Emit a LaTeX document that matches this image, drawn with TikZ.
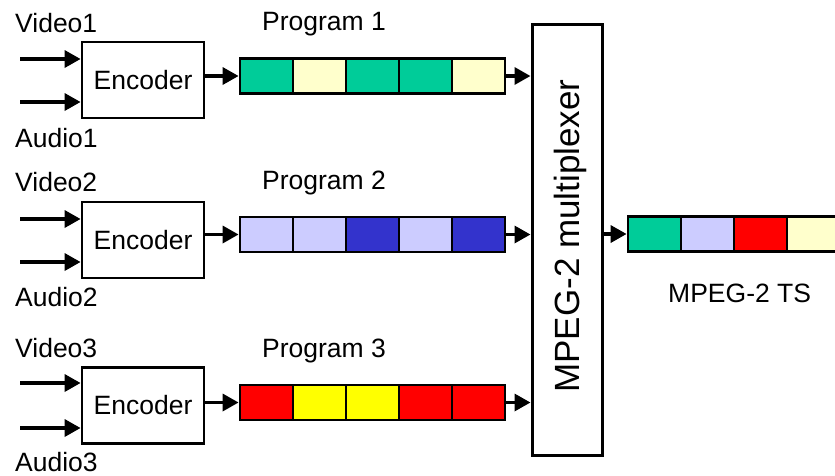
\documentclass[tikz,border=0pt]{standalone}
\usepackage{fontspec}
\setmainfont{Liberation Sans}
\usetikzlibrary{arrows.meta}
\definecolor{cgreen}{HTML}{00CC99}
\definecolor{cpale}{HTML}{FFFFCC}
\definecolor{clav}{HTML}{CCCCFF}
\definecolor{cblue}{HTML}{3333CC}
\definecolor{cred}{HTML}{FF0000}
\definecolor{cyel}{HTML}{FFFF00}
\tikzset{
  lbl/.style={inner sep=0pt, anchor=base west, font=\fontsize{26.5}{28}\selectfont},
  encbox/.style={draw, line width=2.8pt, minimum width=122pt, minimum height=76pt, inner sep=0pt, font=\fontsize{26.5}{28}\selectfont},
  cell/.style={draw, line width=2.8pt, minimum width=53pt, minimum height=35pt, inner sep=0pt},
  arr/.style={line width=3.4pt, -{Triangle[length=16pt,width=17pt]}},
}
\begin{document}
\begin{tikzpicture}[x=1pt,y=-1pt]
\useasboundingbox (0,0) rectangle (835,475);
\clip (0,0) rectangle (835,475);
% labels
\node[lbl] (v1l) at (15,32) {Video1};
\node[lbl] (a1l) at (15,147) {Audio1};
\node[lbl] (v2l) at (15,191) {Video2};
\node[lbl] (a2l) at (15,306) {Audio2};
\node[lbl] (v3l) at (15,357) {Video3};
\node[lbl] (a3l) at (15,471) {Audio3};
\node[lbl] (p1l) at (262,30) {Program 1};
\node[lbl] (p2l) at (262,189) {Program 2};
\node[lbl] (p3l) at (262,357) {Program 3};
\node[lbl] (tsl) at (668,302) {MPEG-2 TS};
% encoders
\node[encbox] (e1) at (143,80) {Encoder};
\node[encbox] (e2) at (143,240) {Encoder};
\node[encbox] (e3) at (143,405.5) {Encoder};
% input starts
\coordinate (i1a) at (20,59);  \coordinate (i1b) at (20,102);
\coordinate (i2a) at (20,219); \coordinate (i2b) at (20,262);
\coordinate (i3a) at (20,383); \coordinate (i3b) at (20,428);
\foreach \s/\e in {i1a/e1,i1b/e1,i2a/e2,i2b/e2,i3a/e3,i3b/e3}
  \draw[arr] (\s) -- (\s -| \e.west);
% multiplexer
\node[draw, line width=3pt, minimum width=70pt, minimum height=431pt, inner sep=0pt] (mux) at (567,239.5) {};
\node[rotate=90, inner sep=0pt, font=\fontsize{35}{37}\selectfont] (muxt) at (570,236) {MPEG-2 multiplexer};
% program packets
\foreach \r/\y/\ca/\cb/\cc/\cd/\ce in {1/76/cgreen/cpale/cgreen/cgreen/cpale, 2/234.5/clav/clav/cblue/clav/cblue, 3/402.5/cred/cyel/cyel/cred/cred}{
  \node[cell, fill=\ca] (p\r1) at (266.5,\y) {};
  \node[cell, fill=\cb] (p\r2) at (319.5,\y) {};
  \node[cell, fill=\cc] (p\r3) at (372.5,\y) {};
  \node[cell, fill=\cd] (p\r4) at (425.5,\y) {};
  \node[cell, fill=\ce] (p\r5) at (478.5,\y) {};
  \draw[arr] (e\r.east |- p\r1.west) -- (p\r1.west);
  \draw[arr] (p\r5.east) -- (p\r5.east -| mux.west);
}
% transport stream
\node[cell, fill=cgreen] (t1) at (654.5,234) {};
\node[cell, fill=clav]   (t2) at (707.5,234) {};
\node[cell, fill=cred]   (t3) at (760.5,234) {};
\node[cell, fill=cpale]  (t4) at (813.5,234) {};
\draw[arr] (mux.east |- t1.west) -- (t1.west);
\end{tikzpicture}
\end{document}
